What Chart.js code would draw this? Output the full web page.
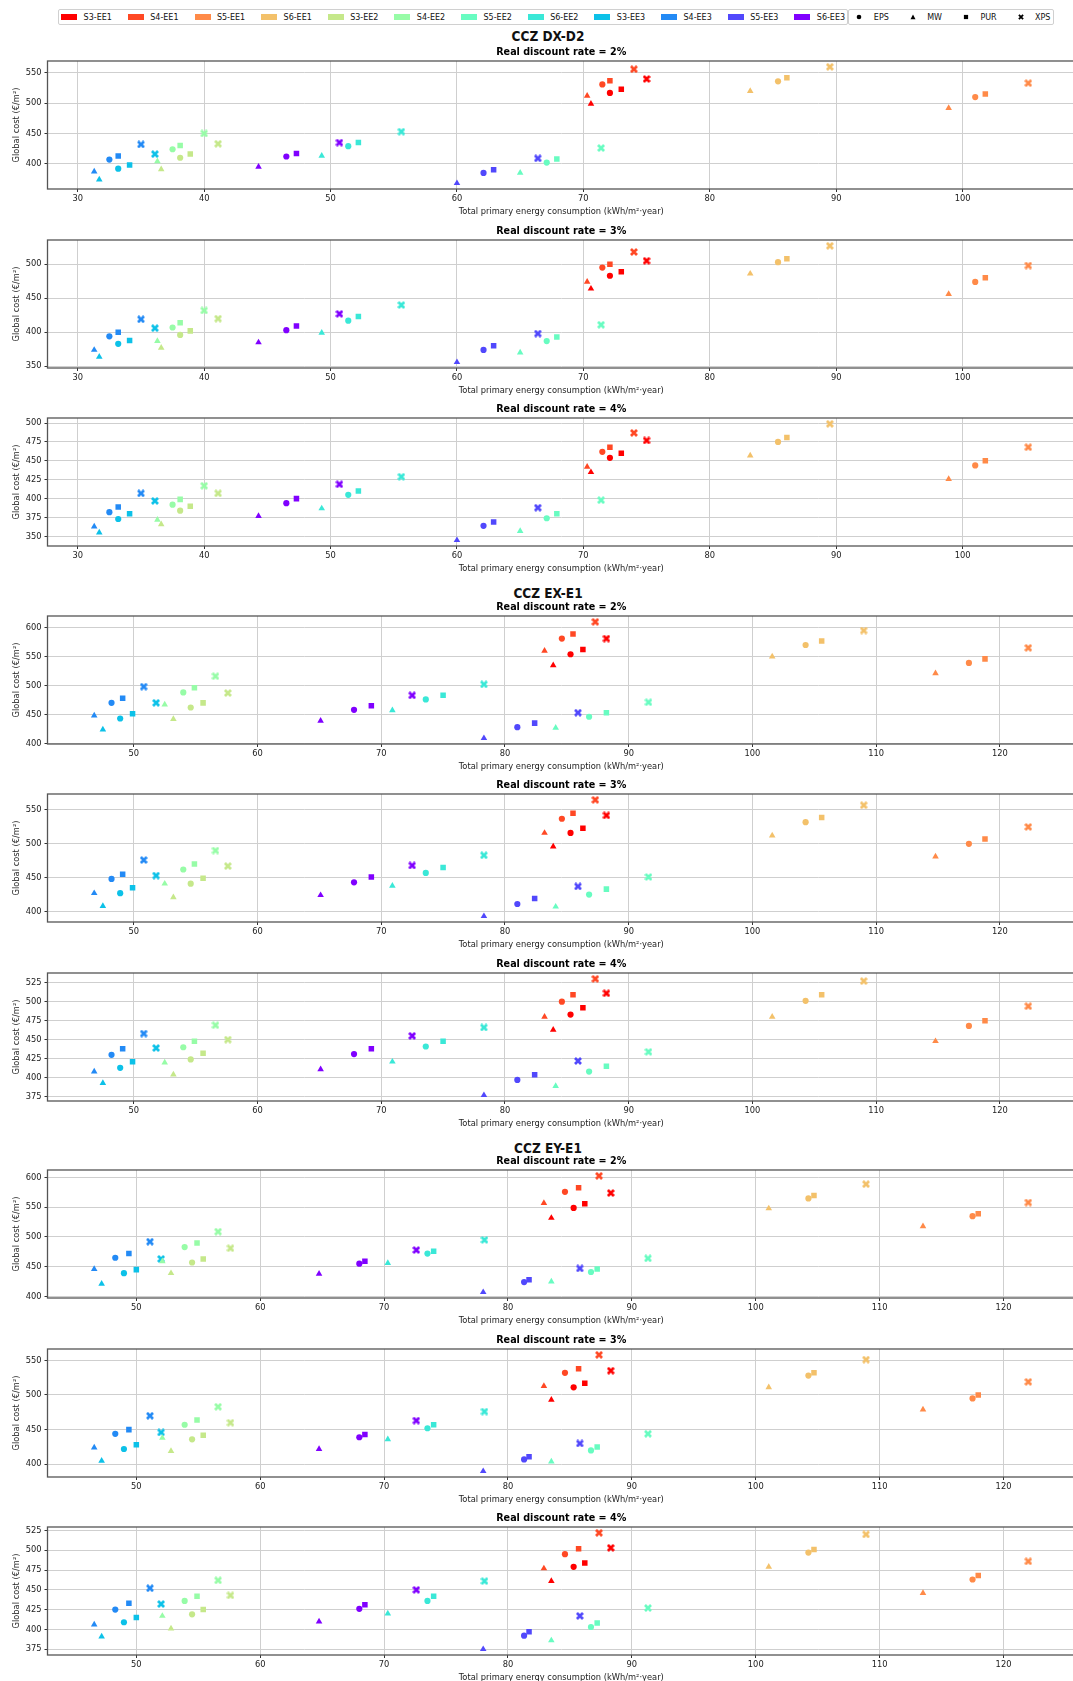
<!DOCTYPE html>
<html>
<head>
<meta charset="utf-8">
<script src="https://cdn.jsdelivr.net/npm/chart.js@4.4.1/dist/chart.umd.min.js"></script>
<style>
html,body{margin:0;padding:0;overflow:hidden;background:#fff;}
#wrap{position:relative;width:1073px;height:1681px;overflow:hidden;background:#fff;}
#wrap canvas.plot{position:absolute;left:0;}
.grp{position:absolute;left:398px;width:300px;height:16px;line-height:16px;text-align:center;
  font-family:'Liberation Sans Narrow','DejaVu Sans Condensed','Open Sans',sans-serif;font-weight:bold;font-size:13.5px;color:#111;}
#legend{position:absolute;top:9px;left:58px;display:flex;font-family:'DejaVu Sans',sans-serif;font-size:8px;color:#111;}
.box{display:flex;align-items:center;box-sizing:border-box;height:16px;border:1px solid #d0d0d0;border-radius:2px;padding:0 2.2px;background:#fff;}
.item{display:flex;align-items:center;white-space:nowrap;}
.item + .item{margin-left:16px;}
.patch{width:16px;height:5.6px;margin-right:6.4px;}
.mk{width:16px;height:8px;margin-right:6.4px;}
</style>
</head>
<body>
<div id="wrap"><div id="legend"></div></div>
<script>
// ---------- categories / labels ----------
const seriesNames = ['S3-EE1','S4-EE1','S5-EE1','S6-EE1','S3-EE2','S4-EE2','S5-EE2','S6-EE2','S3-EE3','S4-EE3','S5-EE3','S6-EE3'];
const seriesColors = ['#ff0000','#ff4824','#ff8a48','#f3c16a','#c5e88a','#97fca7','#68fcc1','#3ae8d7','#0cc1e8','#238af5','#5148fc','#8000ff'];
const insulationLegend = ['EPS','MW','PUR','XPS'];
const pointOrder = ['MW','EPS','PUR','XPS']; // column order of every data row below
const groupTitles = ['CCZ DX-D2','CCZ EX-E1','CCZ EY-E1'];
const rateTitles = ['Real discount rate = 2%','Real discount rate = 3%','Real discount rate = 4%'];
const yTickSteps = [50, 50, 25];
const xTickStep = 10;
const xLabel = 'Total primary energy consumption (kWh/m\u00b2\u00b7year)';
const yLabel = 'Global cost (\u20ac/m\u00b2)';

// ---------- CCZ DX-D2 ----------
const dxX = [
 [70.6,72.1,73.0,75.0],[70.3,71.5,72.1,74.0],[98.9,101.0,101.8,105.2],[83.2,85.4,86.1,89.5],
 [36.6,38.1,38.9,41.1],[36.3,37.5,38.1,40.0],[65.0,67.1,67.9,71.4],[49.3,51.4,52.2,55.6],
 [31.7,33.2,34.1,36.1],[31.3,32.5,33.2,35.0],[60.0,62.1,62.9,66.4],[44.3,46.5,47.3,50.7]];
const dxY2 = [
 [499,517,523,540],[512,531,537,556],[492,510,515,533],[520,536,542,560],
 [391,410,416,433],[404,424,430,450],[385,402,408,426],[413,429,435,453],
 [374,392,398,416],[387,407,413,432],[368,385,390,409],[395,412,417,435]];
const dxY3 = [
 [464,483,489,505],[474,495,500,518],[456,474,480,498],[486,503,508,527],
 [377,396,402,420],[387,407,414,432],[370,387,393,411],[399,417,423,440],
 [364,383,388,406],[374,394,400,419],[356,374,380,398],[385,403,409,427]];
const dxY4 = [
 [435,454,460,477],[442,462,468,487],[426,444,450,468],[457,475,481,499],
 [366,384,390,407],[372,392,399,417],[357,374,380,398],[387,405,410,429],
 [355,373,380,397],[363,382,389,407],[345,364,369,388],[377,394,400,419]];

// ---------- CCZ EX-E1 ----------
const exX = [
 [83.9,85.3,86.3,88.2],[83.2,84.6,85.5,87.3],[114.8,117.5,118.8,122.3],[101.6,104.3,105.6,109.0],
 [53.2,54.6,55.6,57.6],[52.5,54.0,54.9,56.6],[84.1,86.8,88.2,91.6],[70.9,73.6,75.0,78.3],
 [47.5,48.9,49.9,51.8],[46.8,48.2,49.1,50.8],[78.3,81.0,82.4,85.9],[65.1,67.8,69.2,72.5]];
const exY2 = [
 [535,554,562,581],[560,581,589,610],[521,539,546,565],[550,570,577,595],
 [442,462,470,487],[467,488,496,516],[427,446,453,471],[457,476,483,502],
 [424,443,451,470],[448,470,478,498],[409,428,435,453],[439,458,465,483]];
const exY3 = [
 [496,516,523,542],[516,537,545,565],[481,500,507,525],[512,532,539,557],
 [421,441,449,467],[441,462,470,490],[407,425,433,451],[438,457,465,483],
 [408,427,435,453],[427,448,455,476],[393,411,419,437],[424,443,451,468]];
const exY4 = [
 [463,483,492,511],[480,500,509,530],[448,468,475,494],[480,501,509,527],
 [404,424,432,450],[420,440,448,469],[389,408,415,434],[421,441,448,466],
 [393,413,421,439],[408,430,438,458],[377,397,404,422],[411,431,438,455]];

// ---------- CCZ EY-E1 ----------
const eyX = [
 [83.5,85.3,86.2,88.3],[82.9,84.6,85.7,87.35],[113.5,117.5,117.96,122.0],[101.05,104.25,104.7,108.9],
 [52.8,54.5,55.4,57.6],[52.1,53.9,54.9,56.6],[83.5,86.7,87.2,91.3],[70.3,73.5,74.0,78.1],
 [47.2,49.0,50.0,52.0],[46.6,48.3,49.4,51.1],[78.0,81.3,81.7,85.8],[64.75,68.0,68.45,72.6]];
const eyY2 = [
 [532,549,556,574],[557,576,583,603],[518,535,539,558],[548,565,570,589],
 [439,457,463,481],[459,483,490,509],[425,441,446,464],[456,472,476,495],
 [421,439,445,463],[446,465,472,492],[407,424,428,447],[438,455,459,478]];
const eyY3 = [
 [493,511,517,535],[513,532,538,558],[479,495,500,519],[511,528,532,551],
 [419,436,442,460],[438,457,464,483],[404,420,425,444],[436,452,457,476],
 [405,422,428,446],[424,444,450,470],[390,407,411,430],[422,439,443,463]];
const eyY4 = [
 [461,479,484,503],[477,495,502,522],[446,463,468,486],[479,497,501,520],
 [401,419,425,443],[417,436,442,462],[386,403,408,427],[420,436,442,461],
 [391,409,415,432],[406,425,433,452],[375,392,397,417],[410,426,431,450]];

const groups = [
  {x: dxX, ys: [dxY2, dxY3, dxY4]},
  {x: exX, ys: [exY2, exY3, exY4]},
  {x: eyX, ys: [eyY2, eyY3, eyY4]}
];

// ---------- layout (pixels) ----------
const plotTops = [[61, 239.5, 418], [615.5, 794, 972.5], [1170, 1348.5, 1527]];
const groupTitleY = [36, 593, 1148];
const PLOT_H = 128, TITLE_BLOCK = 16, XAXIS_H = 32, Y_AXIS_W = 47.5, CANVAS_W = 1100, RIGHT_PAD = 25;

// ---------- markers ----------
function makeXMarker(color) {
  const c = document.createElement('canvas');
  c.width = 8; c.height = 8;
  const g = c.getContext('2d');
  g.strokeStyle = color; g.lineWidth = 2.7; g.lineCap = 'butt';
  g.beginPath(); g.moveTo(1, 1); g.lineTo(7, 7); g.moveTo(7, 1); g.lineTo(1, 7); g.stroke();
  return c;
}
const markerRadius = {MW: 3.8, EPS: 3.1, PUR: 3.9, XPS: 3.6};
function markerStyle(ins, color) {
  if (ins === 'MW') return 'triangle';
  if (ins === 'EPS') return 'circle';
  if (ins === 'PUR') return 'rect';
  return makeXMarker(color);
}

// ---------- legend (HTML) ----------
const legendSvg = {
  EPS: '<circle cx="8" cy="4" r="2.3" fill="#000"/>',
  MW: '<polygon points="8,1.4 10.5,6.3 5.5,6.3" fill="#000"/>',
  PUR: '<rect x="5.9" y="1.9" width="4.2" height="4.2" fill="#000"/>',
  XPS: '<path d="M5.9,1.9 L10.1,6.1 M10.1,1.9 L5.9,6.1" stroke="#000" stroke-width="1.8"/>'
};
(function buildLegend() {
  const lg = document.getElementById('legend');
  const b1 = document.createElement('div'); b1.className = 'box';
  seriesNames.forEach((n, i) => {
    const it = document.createElement('div'); it.className = 'item';
    it.innerHTML = '<span class="patch" style="background:' + seriesColors[i] + '"></span><span>' + n + '</span>';
    b1.appendChild(it);
  });
  const b2 = document.createElement('div'); b2.className = 'box';
  insulationLegend.forEach(n => {
    const it = document.createElement('div'); it.className = 'item';
    it.innerHTML = '<svg class="mk" viewBox="0 0 16 8" width="16" height="8">' + legendSvg[n] + '</svg><span>' + n + '</span>';
    b2.appendChild(it);
  });
  lg.appendChild(b1); lg.appendChild(b2);
})();

// ---------- chart helpers ----------
function paddedRange(vals) {
  const mn = Math.min(...vals), mx = Math.max(...vals), m = (mx - mn) * 0.05;
  return [mn - m, mx + m];
}
const framePlugin = {
  id: 'frame',
  afterDraw(chart) {
    const {ctx, chartArea: a} = chart;
    ctx.save();
    ctx.strokeStyle = '#555'; ctx.lineWidth = 1.3;
    ctx.strokeRect(a.left, a.top, a.right - a.left, a.bottom - a.top);
    ctx.restore();
  }
};
const tickFont = {family: 'DejaVu Sans', size: 8.3};
const wrap = document.getElementById('wrap');

groupTitles.forEach((t, gi) => {
  const d = document.createElement('div');
  d.className = 'grp'; d.textContent = t;
  d.style.top = (groupTitleY[gi] - 8) + 'px';
  wrap.appendChild(d);
});

groups.forEach((grp, gi) => {
  grp.ys.forEach((ys, ri) => {
    const cv = document.createElement('canvas');
    cv.className = 'plot';
    const h = TITLE_BLOCK + PLOT_H + XAXIS_H;
    cv.width = CANVAS_W; cv.height = h;
    cv.style.width = CANVAS_W + 'px'; cv.style.height = h + 'px';
    cv.style.top = (plotTops[gi][ri] - TITLE_BLOCK) + 'px';
    wrap.appendChild(cv);

    const datasets = seriesNames.map((name, si) => ({
      label: name,
      data: grp.x[si].map((xv, j) => ({x: xv, y: ys[si][j]})),
      backgroundColor: seriesColors[si],
      borderColor: seriesColors[si],
      borderWidth: 0,
      pointStyle: pointOrder.map(p => markerStyle(p, seriesColors[si])),
      pointRadius: pointOrder.map(p => markerRadius[p]),
      pointHoverRadius: pointOrder.map(p => markerRadius[p])
    }));
    const [xmin, xmax] = paddedRange(grp.x.flat());
    const [ymin, ymax] = paddedRange(ys.flat());

    new Chart(cv, {
      type: 'scatter',
      data: {datasets},
      plugins: [framePlugin],
      options: {
        responsive: false,
        animation: false,
        events: [],
        layout: {padding: {left: 0, right: RIGHT_PAD, top: 0, bottom: 0}},
        plugins: {
          legend: {display: false},
          tooltip: {enabled: false},
          title: {
            display: true, text: rateTitles[ri], fullSize: false, color: '#000',
            font: {family: 'DejaVu Sans', size: 9.6, weight: 'bold', lineHeight: 1.2},
            padding: {top: 2.2, bottom: 2.28}
          }
        },
        scales: {
          x: {
            type: 'linear', position: 'bottom', min: xmin, max: xmax,
            ticks: {stepSize: xTickStep, includeBounds: false, color: '#222', font: tickFont, padding: 2, maxRotation: 0, autoSkip: false},
            grid: {color: '#cfcfcf', lineWidth: 1, tickLength: 3, tickColor: '#333', drawTicks: true},
            border: {display: false},
            title: {display: true, text: xLabel, color: '#222', font: {family: 'DejaVu Sans', size: 8.3, lineHeight: 1.2}, padding: {top: 0, bottom: 4}},
            afterFit: s => { s.height = XAXIS_H; }
          },
          y: {
            type: 'linear', position: 'left', min: ymin, max: ymax,
            ticks: {stepSize: yTickSteps[ri], includeBounds: false, color: '#222', font: tickFont, padding: 3},
            grid: {color: '#cfcfcf', lineWidth: 1, tickLength: 3, tickColor: '#333', drawTicks: true},
            border: {display: false},
            title: {display: true, text: yLabel, color: '#222', font: {family: 'DejaVu Sans', size: 8.3, lineHeight: 1.2}, padding: {top: 12, bottom: 0}},
            afterFit: s => { s.width = Y_AXIS_W; }
          }
        }
      }
    });
  });
});
</script>
</body>
</html>
